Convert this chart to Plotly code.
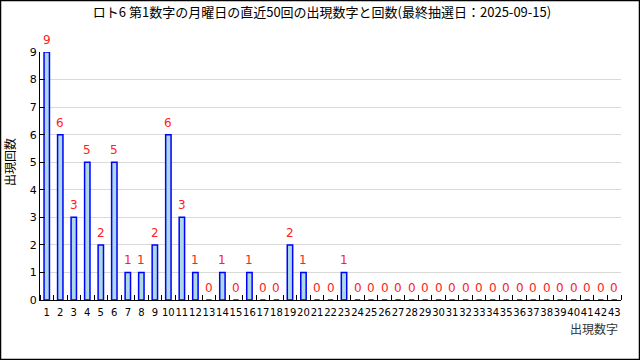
import plotly.graph_objects as go

numbers = list(range(1, 44))
counts = [9, 6, 3, 5, 2, 5, 1, 1, 2, 6, 3, 1, 0, 1, 0, 1, 0, 0, 2, 1, 0, 0, 1,
          0, 0, 0, 0, 0, 0, 0, 0, 0, 0, 0, 0, 0, 0, 0, 0, 0, 0, 0, 0]
tick_labels = [str(n) for n in numbers]
title_text = "ロト6 第1数字の月曜日の直近50回の出現数字と回数(最終抽選日：2025-09-15)"

W, H = 640, 360
ML, MR, MT, MB = 40, 19, 52, 60
pw, ph = W - ML - MR, H - MT - MB

font_main = "Noto Sans CJK JP"

fig = go.Figure()
fig.add_trace(go.Bar(
    x=numbers, y=counts, width=0.4,
    marker=dict(color="#ADD8E6", line=dict(color="#0000FF", width=1.5)),
    hoverinfo="skip",
))
for n, c in zip(numbers, counts):
    fig.add_annotation(x=n, y=c, xref="x", yref="y", text=str(c), showarrow=False,
                       yanchor="bottom", yshift=3,
                       font=dict(color="#FF2020", size=12, family="DejaVu Sans"))

fig.update_layout(
    width=W, height=H,
    margin=dict(l=ML, r=MR, t=MT, b=MB),
    paper_bgcolor="white", plot_bgcolor="white",
    showlegend=False,
    title=dict(text=title_text, x=(W / 2 + 2 - ML) / pw, xref="paper", xanchor="center",
               y=1 - 12 / H, yref="container", yanchor="middle",
               font=dict(family=font_main, size=13, color="black")),
    font=dict(family="DejaVu Sans", size=10, color="black"),
    bargap=0,
)

fig.update_xaxes(
    range=[0.5, 43.5], tickmode="array", tickvals=numbers, ticktext=tick_labels,
    tickangle=0, ticks="", showgrid=False, zeroline=False,
    showline=True, linecolor="black", linewidth=1, ticklabelstandoff=3,
    tickfont=dict(family="DejaVu Sans", size=10, color="black"),
    minor=dict(tick0=0.5, dtick=1, ticks="inside", ticklen=5, tickcolor="black", showgrid=False),
    fixedrange=True,
)
fig.update_yaxes(
    range=[0, 9], dtick=1, tick0=0, ticks="inside", ticklen=5, tickcolor="black",
    showgrid=True, gridcolor="#D9D9D9", gridwidth=1, zeroline=False,
    showline=True, linecolor="black", linewidth=1,
    tickfont=dict(family="DejaVu Sans", size=11, color="black"),
    fixedrange=True,
)

fig.add_annotation(text="出現数字", xref="paper", yref="paper",
                   x=(619 - ML) / pw, y=-(319 - MT - ph) / ph,
                   xanchor="right", yanchor="top", showarrow=False, borderpad=0,
                   font=dict(family=font_main, size=12, color="#333333"))
fig.add_annotation(text="出現回数", xref="paper", yref="paper",
                   x=(9 - ML) / pw, y=(MT + ph - 162) / ph,
                   xanchor="center", yanchor="middle", textangle=-90, showarrow=False,
                   font=dict(family=font_main, size=12, color="black"))

fig.add_shape(type="rect", xref="paper", yref="paper",
              x0=(0.5 - ML) / pw, x1=(W - 0.5 - ML) / pw,
              y0=-(MB - 0.5) / ph, y1=1 + (MT - 0.5) / ph,
              line=dict(color="black", width=1.5), fillcolor="rgba(0,0,0,0)", layer="above")

fig.write_html("out.html", post_script="document.body.style.margin='0';",
               config={"displayModeBar": False, "staticPlot": True})
